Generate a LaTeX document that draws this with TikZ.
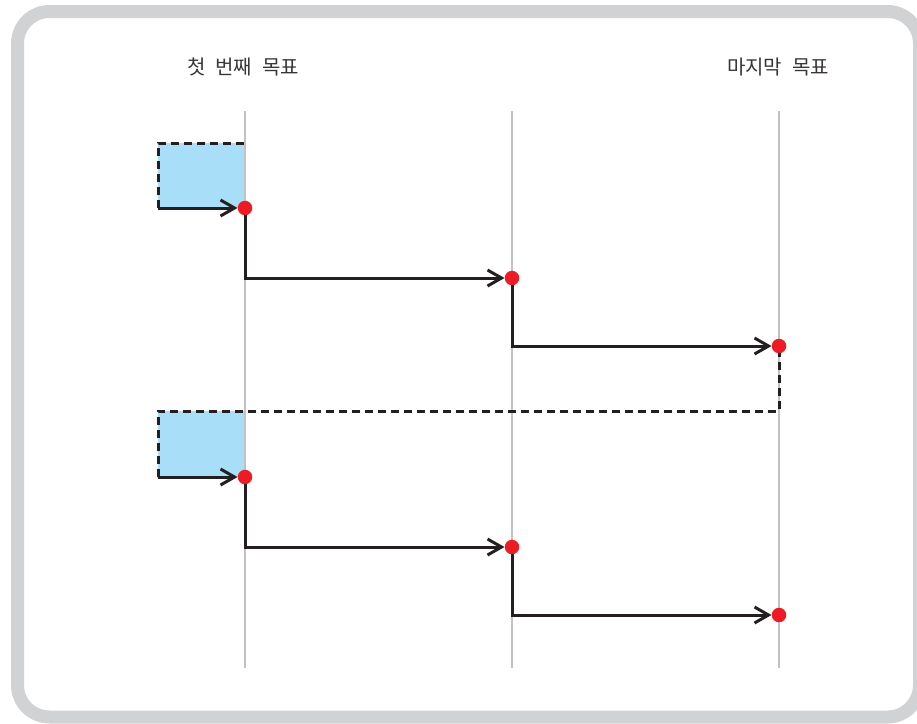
\documentclass[tikz,border=0pt]{standalone}
\usepackage{fontspec}
\newfontfamily\kr[WordSpace=2.2]{Noto Sans CJK KR}
\usetikzlibrary {arrows.meta}
\definecolor{framegray}{HTML}{D1D2D4}
\definecolor{lanegray}{HTML}{C2C2C4}
\definecolor{dotred}{HTML}{ED1C24}
\definecolor{boxblue}{HTML}{A8DEF8}
\definecolor{inkblack}{HTML}{231F20}
\begin{document}
\begin{tikzpicture}[x=1pt,y=-1pt,
  >={Straight Barb[length=14pt,width=16pt,line width=3pt]},
  goal/.style={circle,fill=dotred,inner sep=0pt,minimum size=14.5pt},
  link/.style={->,line width=3pt,color=inkblack},
  gap/.style={line width=3pt,color=inkblack,dash pattern=on 8pt off 5pt},
  lane/.style={line width=2pt,color=lanegray},
  head/.style={font=\kr\fontsize{20pt}{24pt}\selectfont,color=inkblack!90}]
  \useasboundingbox (0,0) rectangle (917,723);
  \draw [line width=13pt,color=framegray,rounded corners=32pt] (17.5,11.5) rectangle (919.5,717);
  % boxes
  \fill [boxblue] (158,143) rectangle (245,208);
  \fill [boxblue] (158,411) rectangle (245,477);
  % lanes
  \foreach \x in {245, 512, 779} \draw [lane] (\x,111)--(\x,668);
  \node [head] (first) at (243,67) {첫 번째 목표};
  \node [head] (last) at (778,67) {마지막 목표};
  % goals
  \node [goal] (a1) at (245,208) {};
  \node [goal] (a2) at (512,278) {};
  \node [goal] (a3) at (779,346) {};
  \node [goal] (b1) at (245,477) {};
  \node [goal] (b2) at (512,547) {};
  \node [goal] (b3) at (779,615) {};
  \coordinate (sa) at (158,208);
  \coordinate (sb) at (158,477);
  % dashed edges
  \draw [gap] (sa)--(158,143)--(a1 |- 0,143);
  \draw [gap] (sb)--(158,411)--(a3 |- 0,411)--(a3);
  % links
  \draw [link] (sa)--(a1);
  \draw [link] (a1) |- (a2);
  \draw [link] (a2) |- (a3);
  \draw [link] (sb)--(b1);
  \draw [link] (b1) |- (b2);
  \draw [link] (b2) |- (b3);
\end{tikzpicture}
\end{document}
